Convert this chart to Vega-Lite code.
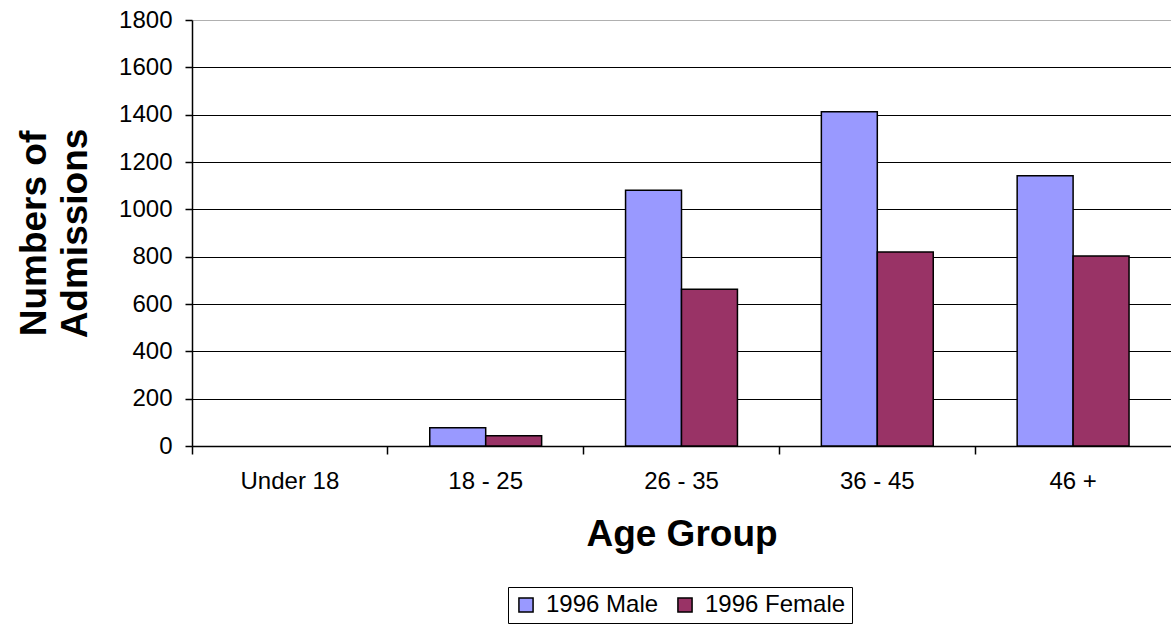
{
  "$schema": "https://vega.github.io/schema/vega-lite/v6.json",
  "autosize": "none",
  "padding": {"left": 192, "top": 20, "right": 0, "bottom": 178},
  "width": 979,
  "height": 426,
  "background": "white",
  "config": {
    "font": "Liberation Sans",
    "view": {"stroke": null}
  },
  "data": {
    "values": [
      {"age": "Under 18", "series": "1996 Male", "count": null},
      {"age": "Under 18", "series": "1996 Female", "count": null},
      {"age": "18 - 25", "series": "1996 Male", "count": 77},
      {"age": "18 - 25", "series": "1996 Female", "count": 43},
      {"age": "26 - 35", "series": "1996 Male", "count": 1081},
      {"age": "26 - 35", "series": "1996 Female", "count": 662},
      {"age": "36 - 45", "series": "1996 Male", "count": 1412},
      {"age": "36 - 45", "series": "1996 Female", "count": 820},
      {"age": "46 +", "series": "1996 Male", "count": 1142},
      {"age": "46 +", "series": "1996 Female", "count": 803}
    ]
  },
  "mark": {"type": "bar", "stroke": "black", "strokeWidth": 1.5},
  "encoding": {
    "x": {
      "field": "age",
      "type": "nominal",
      "sort": null,
      "scale": {"domain": ["Under 18", "18 - 25", "26 - 35", "36 - 45", "46 +"], "paddingInner": 0, "paddingOuter": 0},
      "axis": {
        "title": "Age Group",
        "titleFontSize": 37,
        "titleFontWeight": "bold",
        "titleColor": "black",
        "titlePadding": 23,
        "labelFontSize": 24,
        "labelColor": "black",
        "labelAngle": 0,
        "labelPadding": 15,
        "labelOffset": 0,
        "bandPosition": 0,
        "tickSize": 8,
        "tickColor": "black",
        "tickWidth": 1.5,
        "domainColor": "black",
        "domainWidth": 1.5,
        "grid": false
      }
    },
    "xOffset": {
      "field": "series",
      "type": "nominal",
      "sort": ["1996 Male", "1996 Female"],
      "scale": {"paddingInner": 0, "paddingOuter": 0.75}
    },
    "y": {
      "field": "count",
      "type": "quantitative",
      "scale": {"domain": [0, 1800], "nice": false},
      "axis": {
        "title": ["Numbers of", "Admissions"],
        "titleFontSize": 37,
        "titleFontWeight": "bold",
        "titleColor": "black",
        "titleLineHeight": 41,
        "titlePadding": 24,
        "values": [0, 200, 400, 600, 800, 1000, 1200, 1400, 1600, 1800],
        "format": "d",
        "labelFontSize": 24,
        "labelColor": "black",
        "labelPadding": 13,
        "tickSize": 7,
        "tickColor": "black",
        "tickWidth": 1.5,
        "domainColor": "black",
        "domainWidth": 1.5,
        "grid": true,
        "gridColor": {"condition": {"test": "datum.value == 1800", "value": "#b0b0b0"}, "value": "black"},
        "gridWidth": 1.2,
        "gridOpacity": 1
      }
    },
    "color": {
      "field": "series",
      "type": "nominal",
      "scale": {"domain": ["1996 Male", "1996 Female"], "range": ["#9999FF", "#993366"]},
      "legend": {
        "title": null,
        "orient": "none",
        "legendX": 316,
        "legendY": 567,
        "direction": "horizontal",
        "strokeColor": "black",
        "padding": 6,
        "symbolType": "square",
        "symbolSize": 200,
        "symbolStrokeColor": "black",
        "symbolStrokeWidth": 1.5,
        "symbolOpacity": 1,
        "labelFontSize": 24,
        "labelColor": "black",
        "labelOffset": 8,
        "columnPadding": 14
      }
    }
  }
}
